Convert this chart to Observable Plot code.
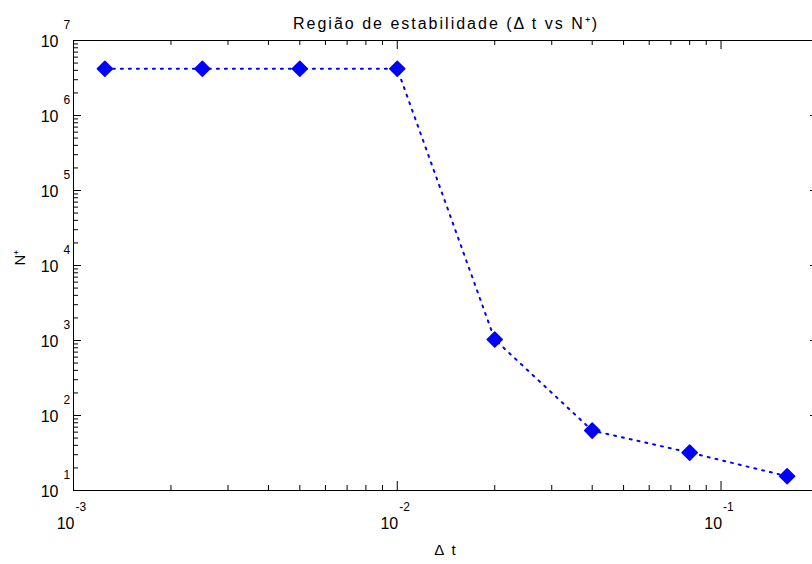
<!DOCTYPE html>
<html>
<head>
<meta charset="utf-8">
<script src="https://cdn.jsdelivr.net/npm/d3@7"></script>
<script src="https://cdn.jsdelivr.net/npm/@observablehq/plot@0.6"></script>
<style>
  html, body { margin: 0; padding: 0; background: #fff; overflow: hidden; }
  #chart { width: 812px; height: 564px; overflow: hidden; }
  #chart svg { max-width: none !important; display: block; }
</style>
</head>
<body>
<div id="chart"></div>
<script>
// ---- data ----
const deltaT = [0.00125, 0.0025, 0.005, 0.01, 0.02, 0.04, 0.08, 0.16];
const nStar = [4.2e6, 4.2e6, 4.2e6, 4.2e6, 1030, 63, 32, 15.5];

// ---- tick positions / labels ----
const xMajor = [0.001, 0.01, 0.1];
const xExp = ["-3", "-2", "-1"];
const xMinor = [0.002, 0.003, 0.004, 0.005, 0.006, 0.007, 0.008, 0.009,
                0.02, 0.03, 0.04, 0.05, 0.06, 0.07, 0.08, 0.09, 0.2];
const yMajor = [1e1, 1e2, 1e3, 1e4, 1e5, 1e6, 1e7];
const yExp = ["1", "2", "3", "4", "5", "6", "7"];
const yMinorMultipliers = [2, 3, 4, 5, 6, 7, 8, 9];
const yMinor = yMajor.slice(0, -1).flatMap(d => yMinorMultipliers.map(m => m * d));

const titleText = "Região de estabilidade (Δ t vs N⁺)";
const xLabel = "Δ t";
const yLabel = "N⁺";

const data = deltaT.map((x, i) => ({x, y: nStar[i]}));

const W = 820, H = 564, ML = 73, MR = 2, MT = 40, MB = 74;
const FW = W - ML - MR, FH = H - MT - MB;
const font = "Liberation Sans, Arial, sans-serif";

const plot = Plot.plot({
  width: W, height: H,
  marginLeft: ML, marginRight: MR, marginTop: MT, marginBottom: MB,
  style: {fontFamily: font, fontSize: "16px", color: "#000", background: "#fff", maxWidth: "none"},
  x: {type: "log", domain: [0.001, 0.2], axis: null},
  y: {type: "log", domain: [10, 1e7], axis: null},
  marks: [
    Plot.frame({stroke: "#000", strokeWidth: 1}),
    // bottom ticks
    Plot.tickX(xMajor, {x: d => d, insetTop: FH - 9, stroke: "#000"}),
    Plot.tickX(xMinor, {x: d => d, insetTop: FH - 5, stroke: "#000"}),
    // top ticks
    Plot.tickX(xMajor, {x: d => d, insetBottom: FH - 9, stroke: "#000"}),
    Plot.tickX(xMinor, {x: d => d, insetBottom: FH - 5, stroke: "#000"}),
    // left ticks
    Plot.tickY(yMajor, {y: d => d, insetRight: FW - 8, stroke: "#000"}),
    Plot.tickY(yMinor, {y: d => d, insetRight: FW - 5, stroke: "#000"}),
    // right ticks
    Plot.tickY(yMajor, {y: d => d, insetLeft: FW - 8, stroke: "#000"}),
    Plot.tickY(yMinor, {y: d => d, insetLeft: FW - 5, stroke: "#000"}),
    // x tick labels
    Plot.text(xMajor, {x: d => d, frameAnchor: "bottom", text: () => "10", textAnchor: "end", dx: 1, dy: 38, fontSize: 16}),
    Plot.text(xMajor, {x: d => d, frameAnchor: "bottom", text: (d, i) => xExp[i], textAnchor: "start", dx: 2, dy: 20, fontSize: 12}),
    // y tick labels
    Plot.text(yMajor, {y: d => d, frameAnchor: "left", text: () => "10", textAnchor: "end", dx: -15, dy: 1, fontSize: 16}),
    Plot.text(yMajor, {y: d => d, frameAnchor: "left", text: (d, i) => yExp[i], textAnchor: "start", dx: -10, dy: -15, fontSize: 12}),
    // axis labels and title
    Plot.text([xLabel], {frameAnchor: "bottom", text: d => d, dy: 64, fontSize: 15}),
    Plot.text([yLabel], {frameAnchor: "left", text: d => d, dx: -53, rotate: -90, fontSize: 15}),
    Plot.text([titleText], {frameAnchor: "top", text: d => d, dy: -23, fontSize: 16}),
    // data
    Plot.line(data, {x: "x", y: "y", stroke: "#0000ff", strokeWidth: 2, strokeDasharray: "2,6"}),
    Plot.dot(data, {x: "x", y: "y", symbol: "diamond2", r: 6.8, fill: "#0000ff", stroke: "#0000ff", strokeWidth: 1.5, strokeLinejoin: "round"})
  ]
});
// widen spacing of title and x label glyphs as in the reference
d3.select(plot).selectAll("text").each(function() {
  const t = this.textContent;
  if (t === titleText) this.setAttribute("letter-spacing", "2px");
  if (t === xLabel) this.setAttribute("letter-spacing", "2px");
});
document.getElementById("chart").appendChild(plot);
</script>
</body>
</html>
